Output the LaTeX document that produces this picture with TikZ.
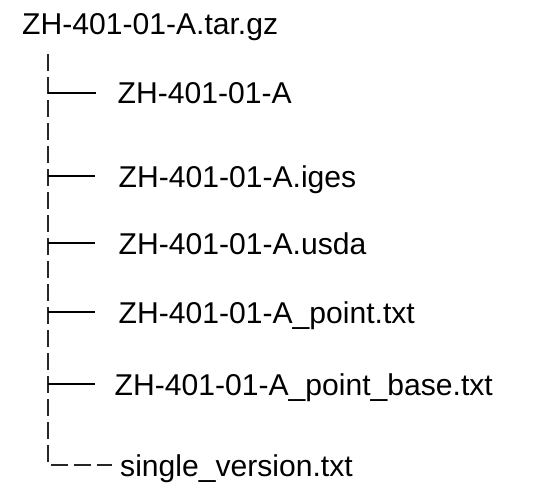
\documentclass[tikz,border=0pt]{standalone}
\usepackage{fontspec}
\setmainfont{Liberation Sans}
\begin{document}
\begin{tikzpicture}[x=1pt,y=-1pt,
  label/.style={anchor=base west,inner sep=0pt,font=\fontsize{30.1}{36}\selectfont,text=black},
  trunk/.style={draw=black!85,line width=2pt,dash pattern=on 17pt off 6pt},
  branch/.style={draw=black,line width=2pt}]
\useasboundingbox (0,0) rectangle (537,498);
% archive name
\node[label] (root) at (22,34) {ZH-401-01-A.tar.gz};
% tree spine and the dashed last entry
\coordinate (top) at (47.5,54);
\coordinate (corner) at (47.5,465);
\coordinate (lastend) at (112,465);
\draw[trunk] (top) -- (corner) -- (lastend);
% entries
\coordinate (b1) at (47.5,92.5);
\coordinate (b2) at (47.5,176);
\coordinate (b3) at (47.5,243);
\coordinate (b4) at (47.5,312);
\coordinate (b5) at (47.5,384);
\coordinate (e1) at (96,92.5);
\coordinate (e2) at (95,176);
\coordinate (e3) at (95,243);
\coordinate (e4) at (95,312);
\coordinate (e5) at (95,384);
\node[label] (f1) at (117.5,103.5) {ZH-401-01-A};
\node[label] (f2) at (118.5,187) {ZH-401-01-A.iges};
\node[label] (f3) at (118.5,254) {ZH-401-01-A.usda};
\node[label] (f4) at (118.5,323) {ZH-401-01-A\_point.txt};
\node[label] (f5) at (114.5,395) {ZH-401-01-A\_point\_base.txt};
\node[label] (f6) at (120,476) {single\_version.txt};
\foreach \i in {1,...,5} \draw[branch] (b\i) -- (e\i);
\end{tikzpicture}
\end{document}
